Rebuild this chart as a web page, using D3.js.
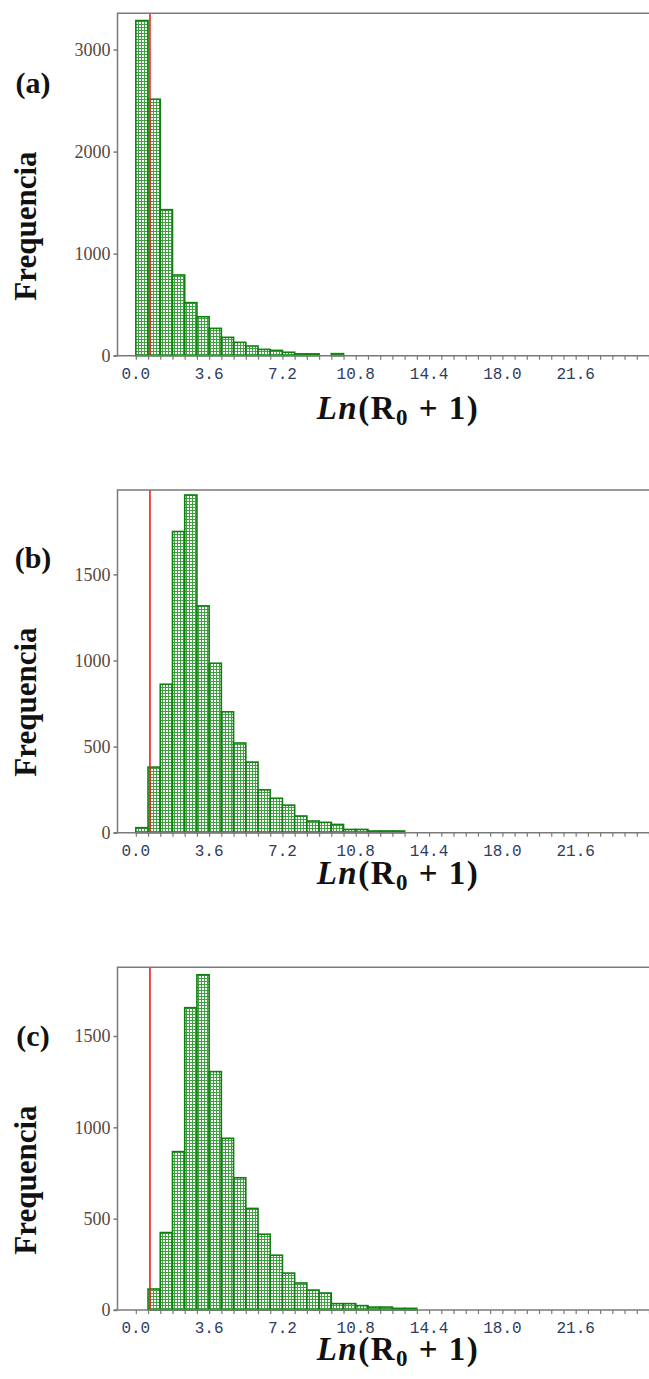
<!DOCTYPE html>
<html>
<head>
<meta charset="utf-8">
<script src="https://cdn.jsdelivr.net/npm/d3@7"></script>
<style>
  body { margin: 0; background: #fff; }
  svg { display: block; }
</style>
</head>
<body>
<div id="chart"></div>
<script>
// bin edges (left edge of each 0.6 wide bin)
const binEdges = [0.0, 0.6, 1.2, 1.8, 2.4, 3.0, 3.6, 4.2, 4.8, 5.4, 6.0, 6.6, 7.2, 7.8,
                  8.4, 9.0, 9.6, 10.2, 10.8, 11.4, 12.0, 12.6, 13.2];
const binWidth = 0.6;

// frequencies
const countsA = [3284, 2513, 1431, 791, 520, 382, 268, 180, 131, 95, 62, 52, 34, 18, 18, 0, 20];
const countsB = [29, 381, 862, 1749, 1961, 1317, 984, 702, 521, 410, 249, 200, 160, 97, 68, 60, 48, 19, 19, 10, 10, 10];
const countsC = [0, 115, 424, 867, 1655, 1835, 1305, 940, 724, 556, 415, 300, 202, 148, 109, 93, 35, 35, 24, 16, 16, 9, 9];

const xTickLabels = [0.0, 3.6, 7.2, 10.8, 14.4, 18.0, 21.6];
const yTicksA = [0, 1000, 2000, 3000];
const yTicksB = [0, 500, 1000, 1500];
const yTicksC = [0, 500, 1000, 1500];

const threshold = Math.log(2); // R0 = 1

const width = 649, height = 1379;
const colors = {
    axis: "#7a7a7a",
    bar: "#0f7f0f",
    mesh: "#3fa03f",
    red: "#ee2020",
    xLabel: "#2f3b63",
    yLabel: "#55483c",
    text: "#111"
};

const svg = d3.select("#chart")
    .append("svg")
    .attr("width", width)
    .attr("height", height);

// mesh fill used by the bars
const pat = svg.append("defs").append("pattern")
    .attr("id", "mesh")
    .attr("width", 3)
    .attr("height", 3)
    .attr("patternUnits", "userSpaceOnUse");
pat.append("rect").attr("width", 3).attr("height", 3).attr("fill", "#fff");
pat.append("rect").attr("width", 3).attr("height", 1).attr("fill", colors.mesh);
pat.append("rect").attr("width", 1).attr("height", 3).attr("fill", colors.mesh);

const x = d3.scaleLinear().domain([-0.9, 25.2]).range([117.5, 649]);
const minorTicks = d3.range(0, 25.21, 0.6);

function drawPanel(counts, yTicks, cfg) {
    const y = d3.scaleLinear().domain([0, cfg.yMax]).range([cfg.bottom, cfg.top]);
    const g = svg.append("g");

    // bars
    g.append("g")
        .selectAll("rect")
        .data(counts.map((c, i) => ({x0: binEdges[i], c})).filter(d => d.c > 0))
        .join("rect")
        .attr("x", d => x(d.x0))
        .attr("y", d => y(d.c))
        .attr("width", d => x(d.x0 + binWidth) - x(d.x0))
        .attr("height", d => y(0) - y(d.c))
        .attr("fill", "url(#mesh)")
        .attr("stroke", colors.bar)
        .attr("stroke-width", 1.6);

    // red line at ln(2)
    g.append("line")
        .attr("x1", x(threshold)).attr("x2", x(threshold))
        .attr("y1", cfg.top).attr("y2", cfg.bottom)
        .attr("stroke", colors.red)
        .attr("stroke-width", 1.6);

    // frame: top + left
    g.append("path")
        .attr("d", `M${width},${cfg.top}H${x.range()[0]}V${cfg.bottom}`)
        .attr("fill", "none")
        .attr("stroke", colors.axis)
        .attr("stroke-width", 1.5);

    // x axis
    const xAxis = g.append("g")
        .attr("transform", `translate(0,${cfg.bottom})`)
        .call(d3.axisBottom(x).tickValues(minorTicks).tickSize(4).tickFormat(""));
    xAxis.select(".domain").remove();
    xAxis.selectAll(".tick line").attr("stroke", colors.axis).attr("stroke-width", 1.2);
    g.append("line")
        .attr("x1", x.range()[0] - 4).attr("x2", width)
        .attr("y1", cfg.bottom).attr("y2", cfg.bottom)
        .attr("stroke", colors.axis)
        .attr("stroke-width", 1.5);

    g.append("g")
        .selectAll("text")
        .data(xTickLabels)
        .join("text")
        .attr("x", d => x(d))
        .attr("y", cfg.bottom + 23)
        .attr("text-anchor", "middle")
        .attr("font-family", "Liberation Mono, monospace")
        .attr("font-size", 16)
        .attr("fill", colors.xLabel)
        .text(d => d.toFixed(1));

    // y axis
    const yAxis = g.append("g")
        .attr("transform", `translate(${x.range()[0]},0)`)
        .call(d3.axisLeft(y).tickValues(yTicks).tickSize(4).tickPadding(3).tickFormat(d3.format("d")));
    yAxis.select(".domain").remove();
    yAxis.selectAll(".tick line").attr("stroke", colors.axis).attr("stroke-width", 1.5);
    yAxis.selectAll(".tick text")
        .attr("font-family", "Liberation Serif, serif")
        .attr("font-size", 18)
        .attr("fill", colors.yLabel);

    // panel letter
    svg.append("text")
        .attr("x", 33)
        .attr("y", cfg.letterY)
        .attr("text-anchor", "middle")
        .attr("font-family", "Liberation Serif, serif")
        .attr("font-weight", "bold")
        .attr("font-size", 30)
        .attr("fill", colors.text)
        .text(cfg.letter);

    // y title
    svg.append("text")
        .attr("transform", `translate(36,${cfg.freqY}) rotate(-90)`)
        .attr("text-anchor", "middle")
        .attr("font-family", "Liberation Serif, serif")
        .attr("font-weight", "bold")
        .attr("font-size", 31)
        .attr("fill", colors.text)
        .text("Frequencia");

    // x title Ln(R0 + 1)
    const t = svg.append("text")
        .attr("x", 398)
        .attr("y", cfg.titleY)
        .attr("text-anchor", "middle")
        .attr("font-family", "Liberation Serif, serif")
        .attr("font-weight", "bold")
        .attr("font-size", 33)
        .attr("letter-spacing", 1.5)
        .attr("fill", colors.text);
    t.append("tspan").attr("font-style", "italic").text("Ln");
    t.append("tspan").text("(R");
    t.append("tspan").attr("font-size", 23).attr("dy", 6).text("0");
    t.append("tspan").attr("dy", -6).text(" + 1)");
}

drawPanel(countsA, yTicksA, {top: 13.3, bottom: 355.7, yMax: 3355, letter: "(a)", letterY: 93, freqY: 226, titleY: 419});
drawPanel(countsB, yTicksB, {top: 490, bottom: 832.7, yMax: 1990, letter: "(b)", letterY: 568, freqY: 702, titleY: 884});
drawPanel(countsC, yTicksC, {top: 967.3, bottom: 1310, yMax: 1876, letter: "(c)", letterY: 1046, freqY: 1180, titleY: 1360});
</script>
</body>
</html>
